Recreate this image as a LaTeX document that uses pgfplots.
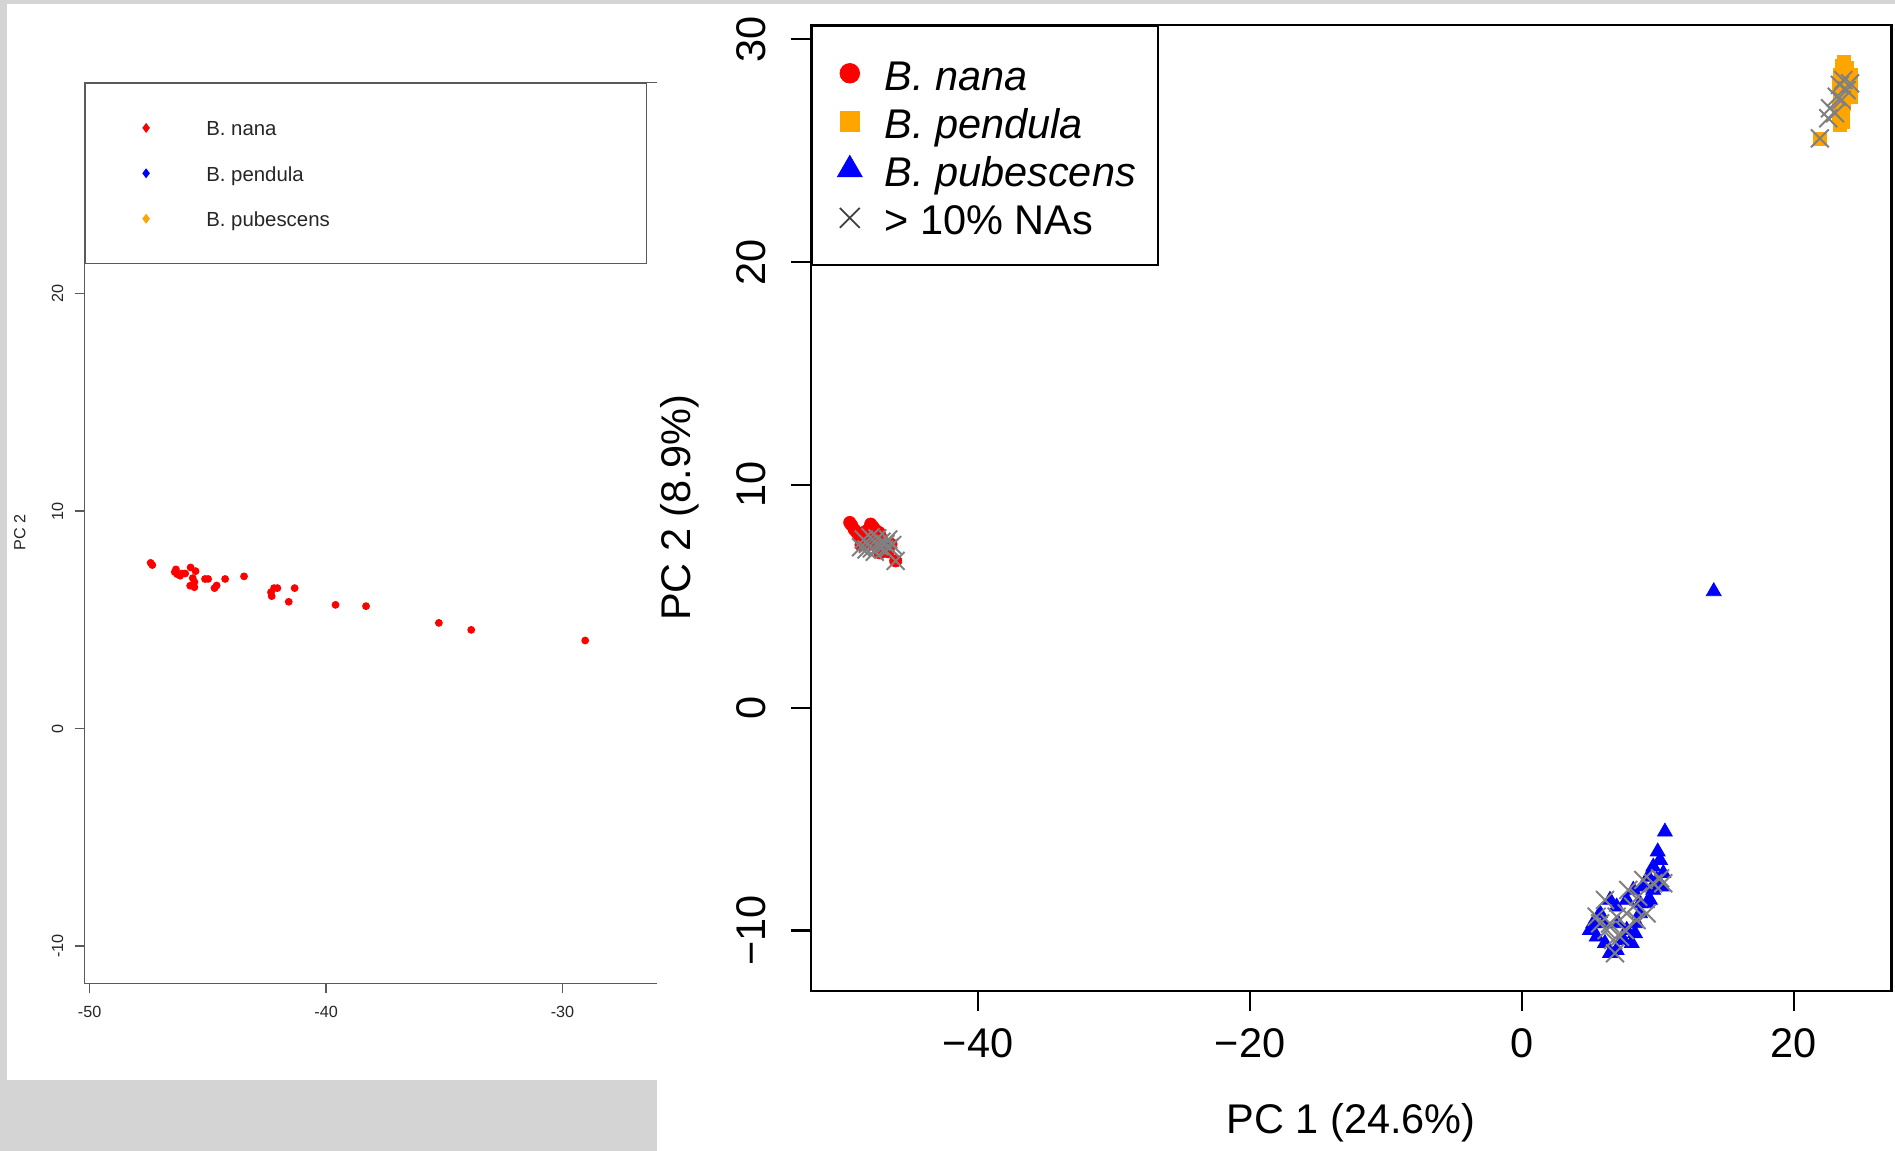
\documentclass[border=0pt]{standalone}
\usepackage{fontspec}
\setmainfont{Liberation Sans}
\usepackage{pgfplots}
\pgfplotsset{compat=1.18}

\definecolor{bggray}{RGB}{212,212,212}
\definecolor{rred}{RGB}{255,0,0}
\definecolor{rorange}{RGB}{255,165,0}
\definecolor{rblue}{RGB}{0,0,255}
\definecolor{rgray}{RGB}{128,128,128}
\definecolor{lframe}{RGB}{90,90,90}

\begin{document}
\begin{tikzpicture}
\fill[bggray] (0,0) rectangle (189.5mm,115.1mm);
\fill[white] (0.7mm,7.1mm) rectangle (65.7mm,114.7mm);

% ---------------- left (partly covered) panel ----------------
\begin{axis}[
  scale only axis, at={(8.47mm,16.77mm)}, anchor=south west,
  width=59.6mm, height=90.11mm,
  xmin=-50.21, xmax=-25, ymin=-11.71, ymax=29.72,
  xtick={-50,-40,-30}, xticklabels={-50,-40,-30},
  ytick={-10,0,10,20}, yticklabels={-10,0,10,20},
  tick pos=left, tick align=outside, major tick length=1mm,
  axis line style={lframe, line width=0.4pt}, tick style={lframe, line width=0.4pt},
  ticklabel style={font=\fontsize{4.6}{5.5}\selectfont, inner sep=0pt, text=black!85},
  xticklabel style={anchor=north}, xticklabel shift=1.27mm,
  yticklabel style={rotate=90, anchor=south}, yticklabel shift=1.07mm,
  ylabel={PC 2},
  ylabel style={font=\fontsize{4.6}{5.5}\selectfont, inner sep=0pt, text=black!85,
    at={(axis description cs:-0.0983,0.5)}, anchor=south},
  legend style={at={(0,1)}, anchor=north west, draw=lframe, line width=0.4pt, fill=white,
    inner xsep=3mm, inner ysep=3.5mm, row sep=2.54mm, column sep=2.95mm,
    font=\fontsize{5.8}{7}\selectfont, text=black!85,
    nodes={inner sep=0pt, text height=1.8mm, text depth=0.2mm}},
  legend cell align=left,
  legend image code/.code={\path (0cm,0cm) (0.6cm,0cm); \draw[#1] plot coordinates {(0.3cm,0cm)};},
]
\addplot[only marks, mark=*, mark size=0.9pt, rred, forget plot] coordinates {
(-47.42,7.62) (-47.35,7.52) (-46.35,7.32) (-46.40,7.20) (-46.30,7.10) (-46.17,7.03)
(-46.10,7.13) (-45.96,7.13) (-45.73,7.41) (-45.52,7.24) (-45.64,6.92) (-45.57,6.74)
(-45.75,6.57) (-45.57,6.50) (-45.12,6.88) (-44.99,6.88) (-44.72,6.46) (-44.63,6.58)
(-44.27,6.88) (-43.47,7.00) (-42.33,6.27) (-42.30,6.09) (-42.20,6.46) (-42.06,6.46)
(-41.58,5.83) (-41.33,6.46) (-39.60,5.69) (-38.31,5.63) (-35.23,4.86) (-33.86,4.54)
(-29.04,4.05)
};
\addlegendimage{mark=diamond*, mark size=1.1pt, rred}
\addlegendentry{\makebox[41.0mm][l]{B. nana}}
\addlegendimage{mark=diamond*, mark size=1.1pt, rblue}
\addlegendentry{\makebox[41.0mm][l]{B. pendula}}
\addlegendimage{mark=diamond*, mark size=1.1pt, rorange}
\addlegendentry{\makebox[41.0mm][l]{B. pubescens}}
\end{axis}

\fill[white] (65.7mm,0) rectangle (189.5mm,114.7mm);

% ---------------- right (main) panel ----------------
\begin{axis}[
  scale only axis, at={(81.1mm,16.03mm)}, anchor=south west,
  width=108.05mm, height=96.57mm,
  xmin=-52.28, xmax=27.17, ymin=-12.70, ymax=30.64,
  xtick={-40,-20,0,20}, xticklabels={−40,−20,0,20},
  ytick={-10,0,10,20,30}, yticklabels={−10,0,10,20,30},
  tick pos=left, tick align=outside, major tick length=2mm,
  axis line style={black, line width=0.6pt}, tick style={black, line width=0.6pt},
  ticklabel style={font=\fontsize{11.8}{14}\selectfont, inner sep=0pt},
  xticklabel style={anchor=north}, xticklabel shift=1.73mm,
  yticklabel style={rotate=90, anchor=south}, yticklabel shift=2.43mm,
  xlabel={PC 1 (24.6\%)}, ylabel={PC 2 (8.9\%)},
  label style={font=\fontsize{11.8}{14}\selectfont, inner sep=0pt},
  xlabel style={at={(axis description cs:0.5,-0.1163)}, anchor=north},
  ylabel style={at={(axis description cs:-0.1027,0.5)}, anchor=south},
  legend style={at={(0,1)}, anchor=north west, draw=black, line width=0.6pt, fill=white,
    inner xsep=0.67mm, inner ysep=2.8mm, row sep=0.97mm, column sep=0.37mm,
    font=\fontsize{11.8}{14}\selectfont,
    nodes={inner sep=0pt, text height=3.6mm, text depth=0.25mm}},
  legend cell align=left,
  legend image code/.code={\path (0cm,0cm) (0.6cm,0cm); \draw[#1] plot coordinates {(0.3cm,0cm)};},
]
% B. nana
\addplot[only marks, mark=*, mark size=1.75pt, rred, mark options={line width=0.2pt}, forget plot] coordinates {
(-49.43,8.31) (-49.3,8.2) (-49.1,8.0) (-48.9,7.85) (-48.7,7.7) (-48.5,7.71) (-48.3,7.9)
(-48.0,8.05) (-47.89,8.24) (-47.7,8.1) (-47.5,7.95) (-47.27,7.86) (-48.6,7.3) (-48.3,7.5)
(-48.0,7.6) (-47.8,7.35) (-47.6,7.5) (-47.4,7.2) (-47.1,7.6) (-46.9,7.4) (-46.7,7.2)
(-46.4,7.34) (-46.6,7.0) (-47.2,6.95) (-46.05,6.59)
};
% B. pendula
\addplot[only marks, mark=square*, mark size=1.85pt, rorange, mark options={line width=0.2pt}, forget plot] coordinates {
(23.7,29.0) (23.5,28.8) (23.9,28.7) (23.4,28.4) (24.2,28.4) (23.8,28.2) (24.2,27.9)
(23.3,27.9) (23.9,27.6) (24.2,27.4) (23.4,27.4) (23.7,27.1) (23.3,26.9) (23.6,26.7)
(23.3,26.5) (23.6,26.3) (23.4,26.15) (21.9,25.55)
};
% B. pubescens
\addplot[only marks, mark=triangle*, mark size=2.46pt, rblue, mark options={line width=0.2pt}, forget plot] coordinates {
(10.51,-5.57) (9.98,-6.46) (10.15,-6.84) (9.65,-7.14) (10.39,-7.43) (9.29,-7.59)
(9.90,-7.73) (8.92,-8.03) (9.41,-8.63) (8.18,-8.18) (7.70,-8.63) (8.68,-8.78)
(6.96,-8.93) (6.47,-8.63) (5.74,-9.23) (5.24,-9.68) (5.00,-9.98) (5.49,-10.28)
(6.10,-10.57) (6.47,-11.02) (6.96,-10.88) (8.07,-10.57) (8.31,-10.13) (7.70,-9.98)
(7.08,-9.68) (8.43,-9.68) (9.17,-8.78) (9.65,-8.18) (10.27,-8.03) (8.68,-9.23)
(5.98,-9.68) (7.45,-10.43) (14.1,5.22)
};
% > 10% NAs
\addplot[only marks, mark=x, mark size=3.6pt, rgray, mark options={line width=0.55pt}, forget plot] coordinates {
(-48.6,7.2) (-48.4,7.55) (-48.1,7.35) (-47.9,7.65) (-47.8,7.15) (-47.6,7.45) (-47.4,7.6)
(-47.3,7.25) (-47.1,7.45) (-46.9,7.1) (-46.8,7.35) (-46.6,7.55) (-46.5,7.2) (-46.3,7.3)
(-47.6,7.0) (-48.2,7.1) (-46.05,6.59)
(23.38,27.95) (23.87,27.72) (23.14,27.42) (23.51,27.28) (24.12,28.02) (22.65,26.9)
(23.01,26.68) (22.52,26.45) (21.9,25.55) (23.63,28.17)
(6.10,-8.63) (6.96,-9.38) (6.23,-9.98) (6.71,-10.43) (6.84,-11.02) (7.57,-9.98)
(7.70,-9.23) (8.18,-8.93) (7.82,-8.18) (8.55,-8.48) (9.17,-9.23) (8.92,-7.73)
(9.65,-7.88) (10.15,-7.66) (10.39,-7.88) (5.74,-9.68) (5.49,-9.38) (7.21,-10.28)
(6.47,-9.68) (8.43,-9.53)
};
\addlegendimage{mark=*, mark size=2.8pt, rred, mark options={line width=0.2pt}}
\addlegendentry{\makebox[26.7mm][l]{\textit{B. nana}}}
\addlegendimage{mark=square*, mark size=2.8pt, rorange, mark options={line width=0.2pt}}
\addlegendentry{\makebox[26.7mm][l]{\textit{B. pendula}}}
\addlegendimage{mark=triangle*, mark size=4.1pt, rblue, mark options={line width=0.2pt}}
\addlegendentry{\makebox[26.7mm][l]{\textit{B. pubescens}}}
\addlegendimage{mark=x, mark size=4pt, black!75, mark options={line width=0.5pt}}
\addlegendentry{\makebox[26.7mm][l]{> 10\% NAs}}
\end{axis}

\pgfresetboundingbox
\path[use as bounding box] (0,0) rectangle (189.5mm,115.1mm);
\end{tikzpicture}
\end{document}
